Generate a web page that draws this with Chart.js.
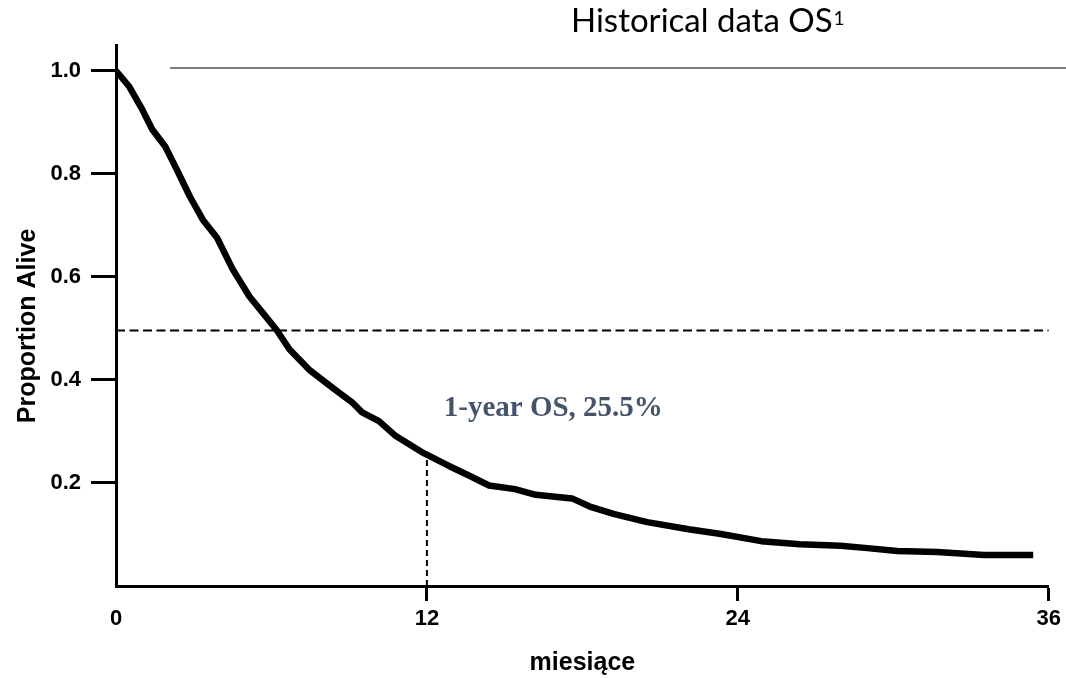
<!DOCTYPE html>
<html>
<head>
<meta charset="utf-8">
<script src="https://cdn.jsdelivr.net/npm/chart.js@4.4.1/dist/chart.umd.min.js"></script>
<style>
  html, body { margin: 0; padding: 0; background: #fff; }
  canvas { display: block; }
</style>
</head>
<body>
<canvas id="chart" width="1066" height="678"></canvas>
<script>
// Kaplan-Meier curve (months, proportion alive)
const months = [0, 0.5, 1.0, 1.4, 1.9, 2.35, 2.85, 3.35, 3.9, 4.5, 5.15, 5.65, 6.2, 6.7, 7.45, 8.4, 9.1, 9.5, 10.15,
  10.8, 11.8, 12.85, 13.6, 14.4, 15.4, 16.2, 17.6, 18.35, 19.2, 20.5, 22.1, 23.35, 24.9, 26.4, 27.96, 28.9, 30.15, 31.7, 33.5, 35.4];
const survival = [1.0, 0.970, 0.926, 0.886, 0.853, 0.808, 0.756, 0.711, 0.676, 0.615, 0.562, 0.531, 0.497, 0.459, 0.420, 0.383, 0.357, 0.337, 0.320,
  0.291, 0.260, 0.233, 0.215, 0.195, 0.188, 0.177, 0.170, 0.153, 0.140, 0.124, 0.110, 0.101, 0.087, 0.081, 0.078, 0.074, 0.068, 0.066, 0.060, 0.060];

const xTicks = [0, 12, 24, 36];
const yTicks = [0.2, 0.4, 0.6, 0.8, 1.0];
const medianLevel = 0.496;
const landmarkMonth = 12;
const landmarkSurvival = 0.255;

const titleText = 'Historical data OS';
const titleSup = '1';
const noteText = '1-year OS, 25.5%';
const noteAt = [12.65, 0.345];
const xTitle = 'miesiące';
const yTitle = 'Proportion Alive   '; // trailing spaces nudge the rotated title down a little

const curve = months.map((m, i) => ({ x: m, y: survival[i] }));
const medianLine = [{ x: xTicks[0], y: medianLevel }, { x: xTicks[xTicks.length - 1], y: medianLevel }];
const landmarkLine = [{ x: landmarkMonth, y: 0 }, { x: landmarkMonth, y: landmarkSurvival }];

const tickFont = { family: 'Arial, "Liberation Sans", sans-serif', size: 22, weight: 'bold' };
const titleFont = { family: 'Arial, "Liberation Sans", sans-serif', size: 25, weight: 'bold' };

// title, title rule and the 1-year note
const overlay = {
  id: 'overlay',
  afterDraw(chart) {
    const { ctx, scales } = chart;
    ctx.save();
    ctx.fillStyle = '#000';
    ctx.textBaseline = 'alphabetic';
    ctx.font = '33px Lato, "Open Sans", sans-serif';
    ctx.fillText(titleText, 571, 32);
    const w = ctx.measureText(titleText).width;
    ctx.font = '19px Lato, "Open Sans", sans-serif';
    ctx.fillText(titleSup, 571 + w + 1, 25);

    ctx.strokeStyle = '#808080';
    ctx.lineWidth = 2;
    ctx.beginPath();
    ctx.moveTo(170, 68);
    ctx.lineTo(chart.width, 68);
    ctx.stroke();

    ctx.font = 'bold 29px "Liberation Serif", "Times New Roman", serif';
    ctx.fillStyle = '#44546a';
    ctx.textBaseline = 'middle';
    ctx.fillText(noteText, scales.x.getPixelForValue(noteAt[0]), scales.y.getPixelForValue(noteAt[1]));
    ctx.restore();
  }
};

new Chart(document.getElementById('chart'), {
  type: 'line',
  data: {
    datasets: [
      { data: curve, borderColor: '#000', borderWidth: 6.5, pointRadius: 0, tension: 0, borderJoinStyle: 'round' },
      { data: medianLine, borderColor: '#000', borderWidth: 2, borderDash: [9, 4.5], pointRadius: 0 },
      { data: landmarkLine, borderColor: '#000', borderWidth: 2, borderDash: [6, 4], pointRadius: 0 }
    ]
  },
  options: {
    responsive: false,
    animation: false,
    devicePixelRatio: 1,
    layout: { padding: { top: 45, right: 14, left: 0, bottom: 0 } },
    plugins: { legend: { display: false }, tooltip: { enabled: false } },
    scales: {
      x: {
        type: 'linear',
        min: 0,
        max: 36,
        afterFit: (s) => { s.height = 92; },
        afterBuildTicks: (s) => { s.ticks = xTicks.map(v => ({ value: v })); },
        ticks: { font: tickFont, color: '#000', padding: 5, maxRotation: 0, callback: (v) => v },
        grid: {
          drawOnChartArea: false,
          drawTicks: true,
          tickLength: 15,
          tickWidth: 3,
          tickColor: (c) => (c.index === 0 ? 'rgba(0,0,0,0)' : '#000')
        },
        border: { display: true, color: '#000', width: 3 },
        title: { display: true, text: xTitle, font: titleFont, color: '#000', padding: { top: 0, bottom: 0 } }
      },
      y: {
        type: 'linear',
        min: 0,
        max: 1.05,
        afterFit: (s) => { s.width = 116; },
        afterBuildTicks: (s) => { s.ticks = yTicks.map(v => ({ value: v })); },
        ticks: { font: tickFont, color: '#000', padding: 10, callback: (v) => Number(v).toFixed(1) },
        grid: { drawOnChartArea: false, drawTicks: true, tickLength: 25, tickWidth: 3, tickColor: '#000' },
        border: { display: true, color: '#000', width: 3 },
        title: { display: true, text: yTitle, font: titleFont, color: '#000', padding: { top: 13, bottom: 0 } }
      }
    }
  },
  plugins: [overlay]
});
</script>
</body>
</html>
